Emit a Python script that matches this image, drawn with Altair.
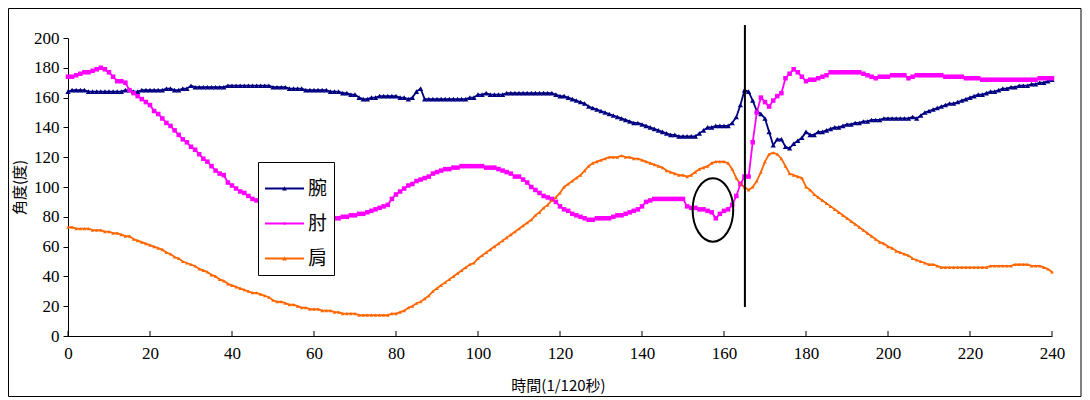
import altair as alt
import pandas as pd

# ---------------- data ----------------
T = list(range(241))

WRIST = [
    164,165,165,165,165,164,164,164,164,164,
    164,164,164,164,165,165,164,164,165,165,
    165,165,165,165,166,166,165,165,166,166,
    168,167,167,167,167,167,167,167,167,168,
    168,168,168,168,168,168,168,168,168,168,
    167,167,167,167,166,166,166,166,165,165,
    165,165,165,165,164,164,164,163,163,162,
    162,160,159,159,160,160,161,161,161,161,
    161,160,160,159,160,164,166,159,159,159,
    159,159,159,159,159,159,159,159,160,160,
    162,162,163,162,162,162,162,163,163,163,
    163,163,163,163,163,163,163,163,163,162,
    161,161,160,159,158,157,156,154,153,152,
    151,150,149,148,147,146,145,144,143,143,
    142,141,140,139,138,137,136,135,135,134,
    134,134,134,134,136,138,140,140,141,141,
    141,141,143,147,155,165,164,158,151,149,
    146,137,128,132,132,127,126,129,131,133,
    137,135,135,137,137,138,139,140,140,141,
    142,142,143,143,144,144,145,145,145,146,
    146,146,146,146,146,146,147,146,148,150,
    151,152,153,154,155,156,156,157,158,159,
    160,161,162,162,163,164,164,165,166,166,
    167,167,168,168,168,169,169,170,170,171,
    172,
]

ELBOW = [
    174,174,175,176,177,177,178,179,180,179,
    177,174,171,171,170,165,163,161,159,157,
    155,151,149,146,143,141,138,135,132,130,
    127,125,122,119,117,114,111,109,108,103,
    101,99,97,96,94,92,91,89,88,87,
    86,85,84,83,83,82,81,81,80,80,
    79,79,79,79,79,79,79,80,80,81,
    81,82,82,83,84,85,86,87,88,92,
    95,97,99,101,102,104,105,106,107,109,
    110,111,112,112,113,113,114,114,114,114,
    114,114,113,113,113,112,111,110,109,107,
    107,105,103,100,98,96,94,93,92,90,
    87,85,84,82,81,80,79,78,78,79,
    79,79,79,80,81,81,82,83,84,85,
    87,90,91,92,92,92,92,92,92,92,
    92,87,86,86,85,85,84,83,79,82,
    84,85,88,94,102,107,107,130,150,160,
    157,154,158,161,163,173,176,179,177,174,
    171,172,172,173,174,175,177,177,177,177,
    177,177,177,177,176,175,174,173,174,174,
    174,175,175,175,175,173,174,175,175,175,
    175,175,175,175,174,174,174,174,174,173,
    173,173,173,172,172,172,172,172,172,172,
    172,172,172,172,172,172,172,173,173,173,
    173,
]

SHOULDER = [
    73,73,72,72,72,72,71,71,71,70,
    70,69,69,68,67,67,65,64,63,62,
    61,60,59,58,56,55,53,52,50,49,
    48,47,45,44,43,41,40,38,37,35,
    34,33,32,31,30,29,29,28,27,26,
    24,23,23,22,21,21,20,19,19,18,
    18,18,17,17,17,16,16,15,15,15,
    15,14,14,14,14,14,14,14,14,15,
    15,16,17,19,20,22,23,25,27,30,
    32,34,36,38,40,42,44,46,48,49,
    52,54,56,58,60,62,64,66,68,70,
    72,74,76,78,81,83,86,88,91,93,
    96,100,102,104,106,108,111,114,116,117,
    118,119,120,120,120,121,120,120,119,119,
    118,117,116,115,114,113,111,110,109,108,
    108,107,108,110,112,113,114,116,117,117,
    117,116,112,106,102,100,98,100,104,110,
    117,122,123,122,119,114,109,108,107,106,
    100,98,95,93,91,89,87,85,83,81,
    79,77,75,73,71,69,67,65,63,62,
    60,59,57,56,55,54,52,51,50,49,
    48,48,47,46,46,46,46,46,46,46,
    46,46,46,46,46,47,47,47,47,47,
    47,48,48,48,48,47,47,47,46,45,
    43,
]

SERIES = ["腕", "肘", "肩"]
COLORS = ["#000080", "#FF00FF", "#FF6600"]
X_TICKS = list(range(0, 241, 20))
Y_TICKS = list(range(0, 201, 20))

# annotations
MARK_T = 165.1          # vertical line
MARK_V = [19.5, 208.7]
ELLIPSE_T = 157.3       # circled region
ELLIPSE_V = 84.6

# ---------------- build table ----------------
rows = []
for name, vals in zip(SERIES, [WRIST, ELBOW, SHOULDER]):
    for t, v in zip(T, vals):
        rows.append({"t": t, "series": name, "v": v})
df = pd.DataFrame(rows)

W, H = 984, 298
FONT_NUM = "Liberation Serif"
FONT_CJK = "Noto Sans CJK TC"

xs = alt.Scale(domain=[0, 240], nice=False, zero=False)
ys = alt.Scale(domain=[0, 200], nice=False)

x_axis = alt.Axis(values=X_TICKS, tickSize=0, labelPadding=9, labelFont=FONT_NUM,
                  labelFontSize=17, labelColor="black", domainColor="black",
                  grid=False, title="時間(1/120秒)", titleFont=FONT_CJK,
                  titleFontSize=15, titleFontWeight="normal", titleColor="black",
                  titleX=490, titleY=49, titleBaseline="middle", labelFlush=False,
                  labelOverlap=False)
y_axis = alt.Axis(values=Y_TICKS, tickSize=5, tickColor="black", labelPadding=4,
                  labelFont=FONT_NUM, labelFontSize=17, labelColor="black",
                  domainColor="black", grid=False, title="角度(度)",
                  titleFont=FONT_CJK, titleFontSize=15, titleFontWeight="normal",
                  titleColor="black", titleX=-49, titleY=149, titleAngle=-90,
                  titleBaseline="middle", titleAlign="center", labelFlush=False,
                  labelOverlap=False)

base = alt.Chart(df)

color_plain = alt.Color("series:N", scale=alt.Scale(domain=SERIES, range=COLORS), legend=None)

lines = base.mark_line(strokeWidth=1.8).encode(
    x=alt.X("t:Q", scale=xs, axis=x_axis),
    y=alt.Y("v:Q", scale=ys, axis=y_axis),
    color=color_plain,
    detail="series:N",
)

points = base.mark_point(filled=True, opacity=1).encode(
    x=alt.X("t:Q", scale=xs, axis=x_axis),
    y=alt.Y("v:Q", scale=ys, axis=y_axis),
    color=color_plain,
    shape=alt.Shape("series:N", scale=alt.Scale(domain=SERIES,
                    range=["triangle-up", "square", "triangle-up"]), legend=None),
    size=alt.Size("series:N", scale=alt.Scale(domain=SERIES, range=[28, 13, 36]), legend=None),
)

LINE_PATH = "M -1 -0.045 L 1 -0.045 L 1 0.045 L -1 0.045 Z "
TRI = "M -0.12 0.1 L 0 -0.12 L 0.12 0.1 Z"
SQ = "M -0.07 -0.07 L 0.07 -0.07 L 0.07 0.07 L -0.07 0.07 Z"

legend_layer = base.transform_filter("datum.t < 0").mark_point(filled=True, opacity=1).encode(
    x=alt.X("t:Q", scale=xs, axis=x_axis),
    y=alt.Y("v:Q", scale=ys, axis=y_axis),
    color=alt.Color("series:N", scale=alt.Scale(domain=SERIES, range=COLORS),
                    legend=alt.Legend(title=None, orient="none", legendX=190, legendY=124,
                                      strokeColor="black", fillColor="white", padding=6,
                                      labelFont=FONT_CJK, labelFontSize=19,
                                      labelColor="black", symbolSize=1521,
                                      labelOffset=3, rowPadding=4)),
    shape=alt.Shape("series:N", scale=alt.Scale(domain=SERIES,
                    range=[LINE_PATH + TRI, LINE_PATH + SQ, LINE_PATH + TRI])),
)

vline_df = pd.DataFrame({"t": [MARK_T], "v0": [MARK_V[0]], "v1": [MARK_V[1]]})
vline = alt.Chart(vline_df).mark_rule(color="black", strokeWidth=2).encode(
    x=alt.X("t:Q", scale=xs, axis=x_axis), y=alt.Y("v0:Q", scale=ys, axis=y_axis), y2="v1:Q")

ell_df = pd.DataFrame({"t": [ELLIPSE_T], "v": [ELLIPSE_V]})
ELL_PATH = "M -0.64 0 A 0.64 1 0 1 0 0.64 0 A 0.64 1 0 1 0 -0.64 0 Z"
ellipse = alt.Chart(ell_df).mark_point(shape=ELL_PATH, filled=False, color="black",
                                       strokeWidth=2, opacity=1, size=4020).encode(
    x=alt.X("t:Q", scale=xs, axis=x_axis), y=alt.Y("v:Q", scale=ys, axis=y_axis))

tick_df = pd.DataFrame({"t": X_TICKS})
xticks = alt.Chart(tick_df).mark_rule(color="black", strokeWidth=1).encode(
    x=alt.X("t:Q", scale=xs, axis=x_axis), y=alt.value(H), y2=alt.value(H - 5))

frame = alt.Chart(alt.Data(values=[{"a": 1}])).mark_rect(
    fill=None, stroke="black", strokeWidth=1).encode(
    x=alt.value(-59.5), x2=alt.value(1013), y=alt.value(-29.5), y2=alt.value(358.5))

chart = alt.layer(frame, lines, points, xticks, vline, ellipse, legend_layer).resolve_scale(
    color="independent", shape="independent", size="independent"
).properties(width=W, height=H, padding=0, background="white").configure_view(
    stroke=None
).configure_axis(labelOverlap=False)

chart.save("out.html", embed_options={"renderer": "svg", "actions": False})
